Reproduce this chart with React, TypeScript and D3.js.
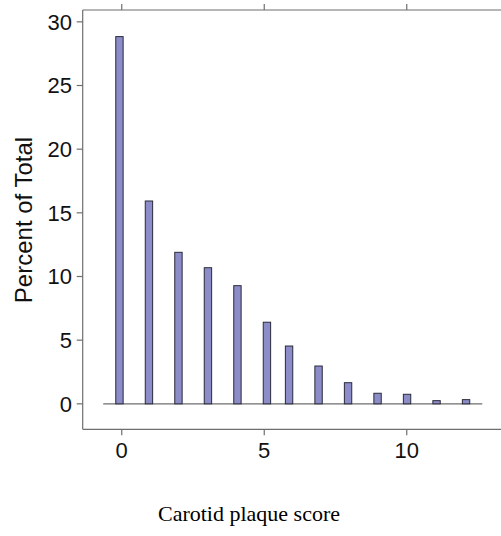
import React, { useEffect } from "react";
import * as d3 from "d3";

// Carotid plaque score categories and their percent of total
const scores = [0, 1, 2, 3, 4, 5, 6, 7, 8, 9, 10, 11, 12];
const percents = [28.84, 15.93, 11.9, 10.69, 9.28, 6.41, 4.54, 2.97, 1.66, 0.83, 0.75, 0.25, 0.33];

// histogram breaks (equal-width bins)
const breakLo = -0.21;
const breakHi = 12.21;
const nBins = 48;

const xTicks = [0, 5, 10];
const yTicks = [0, 5, 10, 15, 20, 25, 30];
const xDomain: [number, number] = [-1.37, 13.37];
const yDomain: [number, number] = [-2.0, 30.93];
const refLine: [number, number] = [-0.65, 12.65];

const W = 501;
const H = 536;

export default function App() {
  useEffect(() => {
    document.body.style.margin = "0";
  }, []);

  const x = d3.scaleLinear().domain(xDomain).range([82.7, 502.8]);
  const y = d3.scaleLinear().domain(yDomain).range([429.3, 10]);

  const binW = (breakHi - breakLo) / nBins;
  const bars = scores.map((s, i) => {
    const k = Math.ceil((s - breakLo) / binW - 1e-9) - 1;
    const lo = breakLo + k * binW;
    const hi = lo + binW;
    return { s, lo, hi, v: percents[i] };
  });

  const axisCol = "#6e6e6e";
  const sans = "'Liberation Sans', Arial, Helvetica, sans-serif";
  const serif = "'Liberation Serif', 'Times New Roman', serif";
  const left = x(xDomain[0]);
  const top = y(yDomain[1]);
  const bottom = y(yDomain[0]);

  return (
    <svg width={W} height={H} style={{ display: "block", position: "absolute", left: 0, top: 0 }}>
      <rect x={0} y={0} width={W} height={H} fill="#ffffff" />
      {/* panel box */}
      <line x1={left} x2={W} y1={top} y2={top} stroke={axisCol} strokeWidth={1.2} />
      <line x1={left} x2={W} y1={bottom} y2={bottom} stroke={axisCol} strokeWidth={1.2} />
      <line x1={left} x2={left} y1={top} y2={bottom} stroke={axisCol} strokeWidth={1.2} />
      {/* reference line at 0 */}
      <line x1={x(refLine[0])} x2={x(refLine[1])} y1={y(0)} y2={y(0)} stroke={axisCol} strokeWidth={1.2} />
      {/* bars */}
      {bars.map((b) => (
        <rect
          key={b.s}
          x={x(b.lo)}
          y={y(b.v)}
          width={x(b.hi) - x(b.lo)}
          height={y(0) - y(b.v)}
          fill="#8c8cc8"
          stroke="#2a2a3a"
          strokeWidth={1}
        />
      ))}
      {/* x ticks bottom & top */}
      {xTicks.map((t) => (
        <g key={"xt" + t}>
          <line x1={x(t)} x2={x(t)} y1={bottom} y2={bottom + 6} stroke={axisCol} strokeWidth={1.2} />
          <line x1={x(t)} x2={x(t)} y1={top} y2={top - 6} stroke={axisCol} strokeWidth={1.2} />
          <text x={x(t)} y={458} textAnchor="middle" fontFamily={sans} fontSize={22} fill="#111">
            {t}
          </text>
        </g>
      ))}
      {/* y ticks */}
      {yTicks.map((t) => (
        <g key={"yt" + t}>
          <line x1={left - 6} x2={left} y1={y(t)} y2={y(t)} stroke={axisCol} strokeWidth={1.2} />
          <text x={72} y={y(t)} dy="0.36em" textAnchor="end" fontFamily={sans} fontSize={22} fill="#111">
            {t}
          </text>
        </g>
      ))}
      {/* y label */}
      <text
        transform="translate(31.5,220) rotate(-90)"
        textAnchor="middle"
        fontFamily={sans}
        fontSize={24}
        fill="#111"
      >
        Percent of Total
      </text>
      {/* x label */}
      <text x={249} y={521} textAnchor="middle" fontFamily={serif} fontSize={22} fill="#000">
        Carotid plaque score
      </text>
    </svg>
  );
}
